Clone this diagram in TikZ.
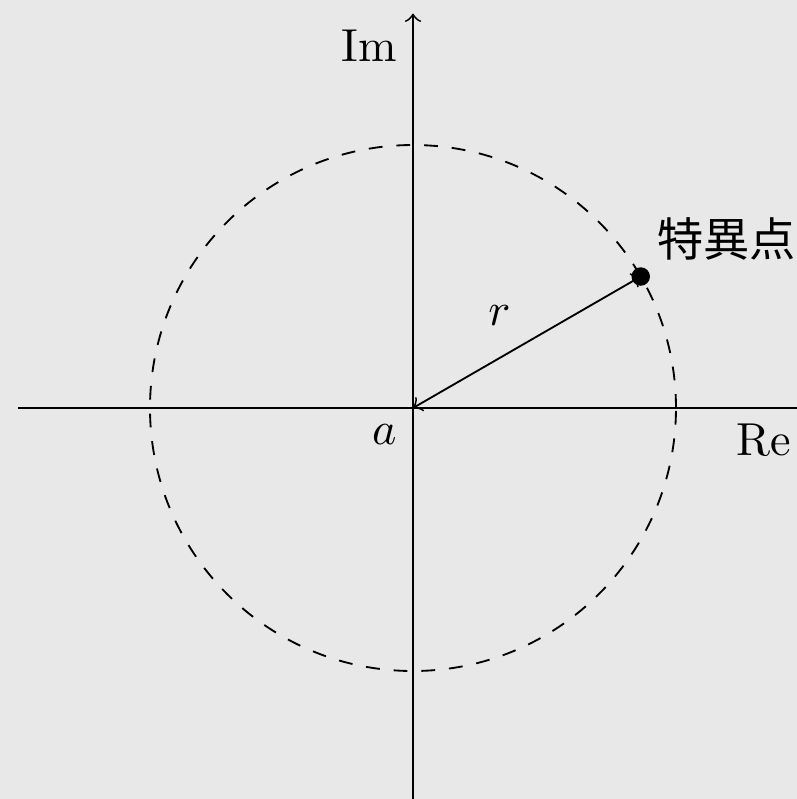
\documentclass[tikz,border=0pt]{standalone}
\usepackage{amsmath}
\usepackage{amssymb}
\usepackage{xcolor}
\usepackage{fontspec}
\newfontfamily\jpfont{Noto Sans CJK JP}
\definecolor{bggray}{RGB}{232,232,232}

\begin{document}
\begin{tikzpicture}
\fill[bggray] (-3.1407,-2.9734) rectangle (2.9202,3.1027);
\useasboundingbox (-3.1407,-2.9734) rectangle (2.9202,3.1027);
\coordinate (O) at (0,0);
\coordinate (P) at (30:2);
\coordinate (xl) at (-3,0);
\coordinate (xr) at (3,0);
\coordinate (yb) at (0,-3);
\coordinate (yt) at (0,3);
\draw[->] (xl)--(xr);
\draw[->] (yb)--(yt);
\draw[dashed] (O) circle (2);
\draw[<->] (O)--(P) node[midway,above left] (r) {$r$};
\fill (P) circle (2pt);
\node[below left] (a) at (O) {$a$};
\node[below left] (re) at (xr) {Re};
\node[below left] (im) at (yt) {Im};
\node[above right] (sing) at (P) {\jpfont 特異点};
\end{tikzpicture}
\end{document}
